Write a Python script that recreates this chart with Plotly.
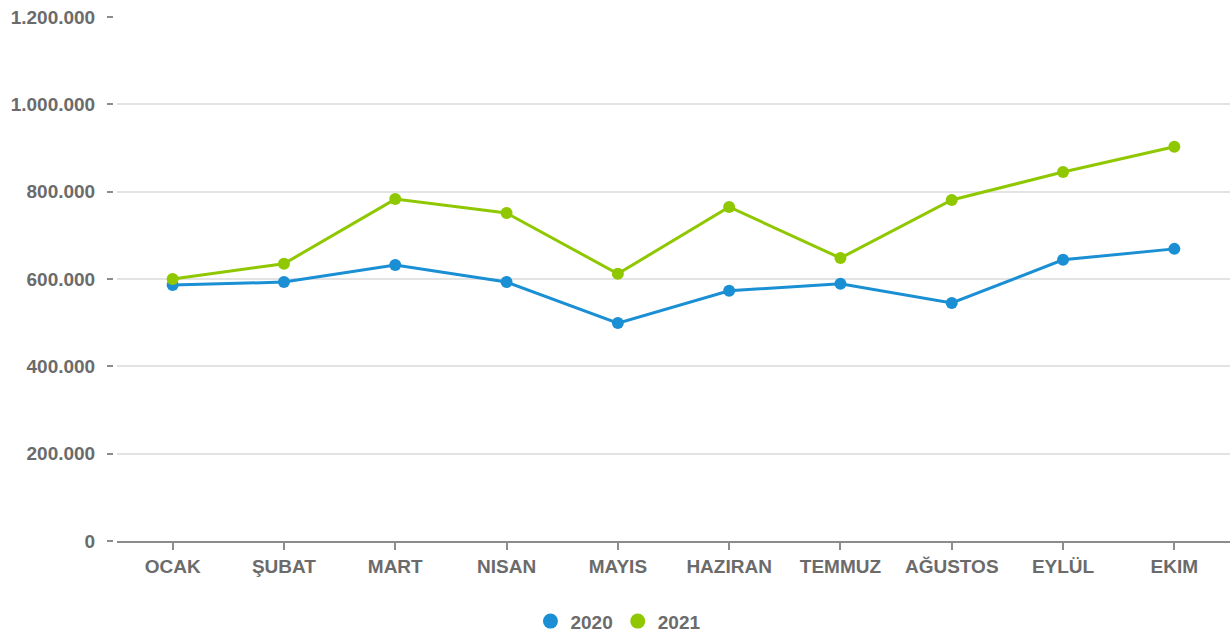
import plotly.graph_objects as go

months = ["OCAK", "ŞUBAT", "MART", "NISAN", "MAYIS", "HAZIRAN", "TEMMUZ", "AĞUSTOS", "EYLÜL", "EKIM"]
values_2020 = [586000, 593000, 632000, 593000, 499000, 573000, 589000, 545000, 644000, 669000]
values_2021 = [600000, 635000, 783000, 751000, 612000, 765000, 648000, 781000, 845000, 903000]
series = [("2020", values_2020, "#1a8fd4"), ("2021", values_2021, "#8fc800")]

text_col = "#6b6b6b"
font_fam = "Liberation Sans, Arial, sans-serif"
fsize = 19

fig = go.Figure()
for name, vals, col in series:
    fig.add_trace(go.Scatter(x=months, y=vals, name=name, mode="lines+markers",
                             line=dict(color=col, width=3), marker=dict(color=col, size=12),
                             showlegend=False, legendgroup=name))
for name, vals, col in series:
    fig.add_trace(go.Scatter(x=[None], y=[None], name=name, mode="markers",
                             marker=dict(color=col, size=15), showlegend=True, legendgroup=name))

fig.update_layout(
    width=1231, height=632,
    margin=dict(l=113, r=1, t=17, b=91),
    plot_bgcolor="white", paper_bgcolor="white",
    separators=",.",
    font=dict(family=font_fam, size=fsize, color=text_col, weight="bold"),
    showlegend=True,
    legend=dict(orientation="h", xref="container", x=0.502, xanchor="center",
                yref="container", y=0.017, yanchor="middle",
                font=dict(family=font_fam, size=fsize, color=text_col, weight="bold"),
                itemwidth=30, tracegroupgap=0),
    xaxis=dict(domain=[4/1117, 1], range=[-0.5, 9.5], showgrid=False,
               showline=True, linecolor="#8c8c8c", linewidth=2,
               ticks="outside", ticklen=7, tickcolor="#8c8c8c", tickwidth=2,
               tickfont=dict(family=font_fam, size=fsize, color=text_col, weight="bold"),
               fixedrange=True),
    yaxis=dict(anchor="free", position=0, range=[0, 1200000], dtick=200000,
               tickformat=",", showgrid=True, gridcolor="#e3e3e3", gridwidth=1.5,
               zeroline=False, showline=False,
               ticks="outside", ticklen=6, tickcolor="#8c8c8c", tickwidth=2,
               ticklabelstandoff=8,
               tickfont=dict(family=font_fam, size=fsize, color=text_col, weight="bold")),
)

fig.write_html("out.html", config={"displayModeBar": False},
               post_script="document.body.style.margin='0';")
